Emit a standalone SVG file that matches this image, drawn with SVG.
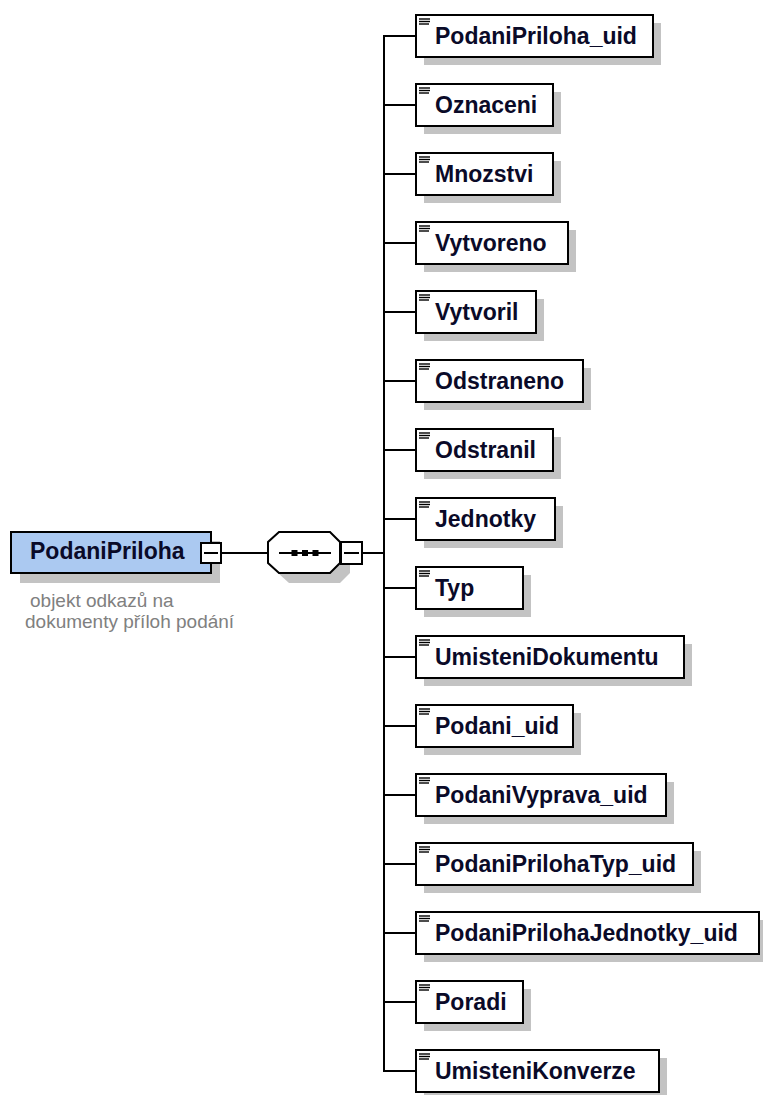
<svg xmlns="http://www.w3.org/2000/svg" xmlns:xlink="http://www.w3.org/1999/xlink" width="763" height="1095" viewBox="0 0 763 1095">
<style>
.shadow{fill:#c3c3c3;stroke:none}
.box{fill:#ffffff;stroke:#000000;stroke-width:2}
.root{fill:#abc9f1;stroke:#000000;stroke-width:2}
.lbl{font-family:"Liberation Sans",Arial,sans-serif;font-weight:bold;font-size:23px;fill:#0a0a28}
.ann{font-family:"Liberation Sans",Arial,sans-serif;font-size:19px;fill:#808080}
.conn{fill:none;stroke:#000000;stroke-width:2}
.ico{stroke:#000000;stroke-width:1.4}
</style>
<defs>
<g id="icon">
<line class="ico" x1="0" y1="0" x2="11" y2="0"/>
<line class="ico" x1="0" y1="2.5" x2="11" y2="2.5"/>
<line class="ico" x1="0" y1="5" x2="10" y2="5"/>
</g>
</defs>
<rect x="0" y="0" width="763" height="1095" fill="#ffffff"/>
<g id="connectors">
<line class="conn" x1="221" y1="553" x2="268" y2="553"/>
<line class="conn" x1="362" y1="553" x2="384" y2="553"/>
<line class="conn" x1="384" y1="35" x2="384" y2="1072"/>
<line class="conn" x1="384" y1="36" x2="416" y2="36"/>
<line class="conn" x1="384" y1="105" x2="416" y2="105"/>
<line class="conn" x1="384" y1="174" x2="416" y2="174"/>
<line class="conn" x1="384" y1="243" x2="416" y2="243"/>
<line class="conn" x1="384" y1="312" x2="416" y2="312"/>
<line class="conn" x1="384" y1="381" x2="416" y2="381"/>
<line class="conn" x1="384" y1="450" x2="416" y2="450"/>
<line class="conn" x1="384" y1="519" x2="416" y2="519"/>
<line class="conn" x1="384" y1="588" x2="416" y2="588"/>
<line class="conn" x1="384" y1="657" x2="416" y2="657"/>
<line class="conn" x1="384" y1="726" x2="416" y2="726"/>
<line class="conn" x1="384" y1="795" x2="416" y2="795"/>
<line class="conn" x1="384" y1="864" x2="416" y2="864"/>
<line class="conn" x1="384" y1="933" x2="416" y2="933"/>
<line class="conn" x1="384" y1="1002" x2="416" y2="1002"/>
<line class="conn" x1="384" y1="1071" x2="416" y2="1071"/>
</g>
<g id="root">
<rect class="shadow" x="20" y="541" width="200" height="42"/>
<rect class="root" x="11" y="532" width="200" height="41"/>
<rect class="box" x="201" y="543" width="20" height="20"/>
<line class="conn" x1="204" y1="553" x2="218" y2="553"/>
<text class="lbl" x="30" y="559">PodaniPriloha</text>
<text class="ann" x="30" y="607">objekt odkazů na</text>
<text class="ann" x="25" y="628">dokumenty příloh podání</text>
</g>
<g id="sequence">
<polygon class="shadow" points="289,542 340,542 350,552 350,573 340,583 289,583 278,573 278,552"/>
<polygon class="box" points="279,532 330,532 340,542 340,563 330,573 279,573 268,563 268,542"/>
<line class="conn" x1="279" y1="553" x2="331" y2="553"/>
<rect x="291.5" y="550" width="6" height="6" fill="#000"/>
<rect x="302" y="550" width="6" height="6" fill="#000"/>
<rect x="312.5" y="550" width="6" height="6" fill="#000"/>
<rect class="box" x="341" y="542" width="21" height="22"/>
<line class="conn" x1="344" y1="553" x2="359" y2="553"/>
</g>
<g id="n0"><rect class="shadow" x="424" y="23" width="237" height="42"/><rect class="box" x="416" y="15" width="237" height="42"/><use xlink:href="#icon" x="419" y="19"/><text class="lbl" x="435" y="44">PodaniPriloha_uid</text></g>
<g id="n1"><rect class="shadow" x="424" y="92" width="137" height="42"/><rect class="box" x="416" y="84" width="137" height="42"/><use xlink:href="#icon" x="419" y="88"/><text class="lbl" x="435" y="113">Oznaceni</text></g>
<g id="n2"><rect class="shadow" x="424" y="161" width="137" height="42"/><rect class="box" x="416" y="153" width="137" height="42"/><use xlink:href="#icon" x="419" y="157"/><text class="lbl" x="435" y="182">Mnozstvi</text></g>
<g id="n3"><rect class="shadow" x="424" y="230" width="152" height="42"/><rect class="box" x="416" y="222" width="152" height="42"/><use xlink:href="#icon" x="419" y="226"/><text class="lbl" x="435" y="251">Vytvoreno</text></g>
<g id="n4"><rect class="shadow" x="424" y="299" width="120" height="42"/><rect class="box" x="416" y="291" width="120" height="42"/><use xlink:href="#icon" x="419" y="295"/><text class="lbl" x="435" y="320">Vytvoril</text></g>
<g id="n5"><rect class="shadow" x="424" y="368" width="167" height="42"/><rect class="box" x="416" y="360" width="167" height="42"/><use xlink:href="#icon" x="419" y="364"/><text class="lbl" x="435" y="389">Odstraneno</text></g>
<g id="n6"><rect class="shadow" x="424" y="437" width="137" height="42"/><rect class="box" x="416" y="429" width="137" height="42"/><use xlink:href="#icon" x="419" y="433"/><text class="lbl" x="435" y="458">Odstranil</text></g>
<g id="n7"><rect class="shadow" x="424" y="506" width="139" height="42"/><rect class="box" x="416" y="498" width="139" height="42"/><use xlink:href="#icon" x="419" y="502"/><text class="lbl" x="435" y="527">Jednotky</text></g>
<g id="n8"><rect class="shadow" x="424" y="575" width="107" height="42"/><rect class="box" x="416" y="567" width="107" height="42"/><use xlink:href="#icon" x="419" y="571"/><text class="lbl" x="435" y="596">Typ</text></g>
<g id="n9"><rect class="shadow" x="424" y="644" width="268" height="42"/><rect class="box" x="416" y="636" width="268" height="42"/><use xlink:href="#icon" x="419" y="640"/><text class="lbl" x="435" y="665">UmisteniDokumentu</text></g>
<g id="n10"><rect class="shadow" x="424" y="713" width="157" height="42"/><rect class="box" x="416" y="705" width="157" height="42"/><use xlink:href="#icon" x="419" y="709"/><text class="lbl" x="435" y="734">Podani_uid</text></g>
<g id="n11"><rect class="shadow" x="424" y="782" width="250" height="42"/><rect class="box" x="416" y="774" width="250" height="42"/><use xlink:href="#icon" x="419" y="778"/><text class="lbl" x="435" y="803">PodaniVyprava_uid</text></g>
<g id="n12"><rect class="shadow" x="424" y="851" width="277" height="42"/><rect class="box" x="416" y="843" width="277" height="42"/><use xlink:href="#icon" x="419" y="847"/><text class="lbl" x="435" y="872">PodaniPrilohaTyp_uid</text></g>
<g id="n13"><rect class="shadow" x="424" y="920" width="343" height="42"/><rect class="box" x="416" y="912" width="343" height="42"/><use xlink:href="#icon" x="419" y="916"/><text class="lbl" x="435" y="941">PodaniPrilohaJednotky_uid</text></g>
<g id="n14"><rect class="shadow" x="424" y="989" width="107" height="42"/><rect class="box" x="416" y="981" width="107" height="42"/><use xlink:href="#icon" x="419" y="985"/><text class="lbl" x="435" y="1010">Poradi</text></g>
<g id="n15"><rect class="shadow" x="424" y="1058" width="243" height="42"/><rect class="box" x="416" y="1050" width="243" height="42"/><use xlink:href="#icon" x="419" y="1054"/><text class="lbl" x="435" y="1079">UmisteniKonverze</text></g>
</svg>
